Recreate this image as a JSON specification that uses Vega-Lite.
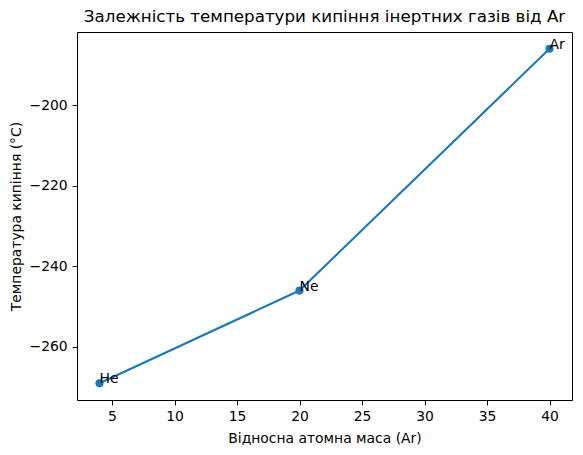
{
  "$schema": "https://vega.github.io/schema/vega-lite/v6.json",
  "width": 495,
  "height": 368,
  "autosize": {"type": "none"},
  "padding": {"left": 77, "top": 32, "right": 11, "bottom": 55},
  "config": {
    "view": {"stroke": "black", "strokeWidth": 1},
    "font": "DejaVu Sans",
    "axis": {
      "domain": false,
      "grid": false,
      "tickColor": "black",
      "tickSize": 4.9,
      "tickWidth": 1,
      "labelPadding": 4.9,
      "labelFontSize": 13.9,
      "labelColor": "black",
      "labelFont": "DejaVu Sans",
      "titleFont": "DejaVu Sans",
      "titleFontSize": 13.9,
      "titleFontWeight": "normal",
      "titleColor": "black"
    }
  },
  "title": {
    "text": "Залежність температури кипіння інертних газів від Ar",
    "font": "DejaVu Sans",
    "fontSize": 16.7,
    "fontWeight": "normal",
    "color": "black",
    "anchor": "middle",
    "offset": 6
  },
  "data": {
    "values": [
      {"gas": "He", "mass": 4, "temp": -269},
      {"gas": "Ne", "mass": 20, "temp": -246},
      {"gas": "Ar", "mass": 40, "temp": -186}
    ]
  },
  "encoding": {
    "x": {
      "field": "mass",
      "type": "quantitative",
      "scale": {"domain": [2.2, 41.8], "nice": false, "zero": false},
      "axis": {"title": "Відносна атомна маса (Ar)", "values": [5, 10, 15, 20, 25, 30, 35, 40], "labelFlush": false, "titlePadding": 8}
    },
    "y": {
      "field": "temp",
      "type": "quantitative",
      "scale": {"domain": [-273.15, -181.85], "nice": false, "zero": false},
      "axis": {"title": "Температура кипіння (°C)", "values": [-260, -240, -220, -200], "labelFlush": false, "titlePadding": 6}
    }
  },
  "layer": [
    {"mark": {"type": "line", "color": "#1f77b4", "strokeWidth": 2.08}},
    {"mark": {"type": "point", "filled": true, "size": 66, "opacity": 1, "color": "#1f77b4"}},
    {
      "mark": {"type": "text", "align": "left", "baseline": "alphabetic", "fontSize": 13.9, "color": "black", "font": "DejaVu Sans"},
      "encoding": {"text": {"field": "gas"}}
    }
  ]
}
